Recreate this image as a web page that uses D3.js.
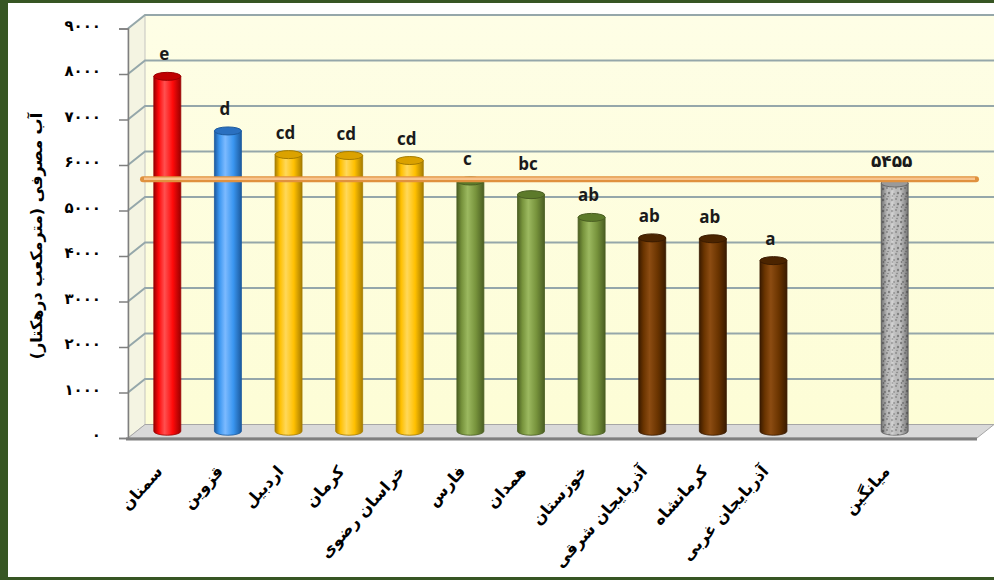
<!DOCTYPE html>
<html lang="fa">
<head>
<meta charset="UTF-8" />
<title>آب مصرفی</title>
<script src="https://d3js.org/d3.v7.min.js"></script>
<style>
  body { margin: 0; background: #375623; }
  svg { display: block; }
</style>
</head>
<body>
<div id="chart"></div>
<script>
const provinces = ["سمنان", "قزوین", "اردبیل", "کرمان", "خراسان رضوی", "فارس", "همدان", "خوزستان", "آذربایجان شرقی", "کرمانشاه", "آذربایجان غربی"]
const waterUse = [7800, 6600, 6080, 6060, 5950, 5500, 5200, 4700, 4250, 4230, 3750]
const groups = ["e", "d", "cd", "cd", "cd", "c", "bc", "ab", "ab", "ab", "a"]
const meanName = "میانگین"
const meanValue = 5455
const yTicks = [0, 1000, 2000, 3000, 4000, 5000, 6000, 7000, 8000, 9000]
const yTitle = "آب مصرفی (مترمکعب درهکتار)"

// colour of each province bar
const barColors = ["red", "blue", "yellow", "yellow", "yellow", "green", "green", "green", "brown", "brown", "brown"]

const palette = {
    red: { base: "#ff0a0a", dark: "#9a0000", light: "#ff5050", top: "#c00000" },
    blue: { base: "#3a96f0", dark: "#1c5a9e", light: "#7cbaff", top: "#2a70c0" },
    yellow: { base: "#ffc000", dark: "#a67c00", light: "#ffd85a", top: "#dba200" },
    green: { base: "#77933c", dark: "#4a5e22", light: "#9cb960", top: "#5c7a2a" },
    brown: { base: "#6a3400", dark: "#3a1b00", light: "#8c4c12", top: "#4b2400" },
    gray: { base: "#c4c4c4", dark: "#6a6a6a", light: "#ececec", top: "#9a9a9a" }
}

const toFa = n => String(n).replace(/\d/g, d => "۰۱۲۳۴۵۶۷۸۹"[d])

const width = 994
const height = 580
const depth = { dx: 17, dy: -13.5 }
const wall = { left: 145, right: 994 }

const y = d3.scaleLinear().domain([0, 9000]).range([424.5, 15])   // back wall
const yFront = v => y(v) - depth.dy
const yMid = v => y(v) - depth.dy / 2

const slots = [...provinces, "", meanName]
const x = d3.scaleBand().domain(slots).range([137, 925]).padding(0)
const barW = 27
const cx = k => x(k) + x.bandwidth() / 2

const svg = d3.select("#chart").append("svg")
    .attr("width", width)
    .attr("height", height)

const defs = svg.append("defs")
Object.entries(palette).forEach(([k, c]) => {
    const g = defs.append("linearGradient").attr("id", "cyl-" + k)
        .attr("x1", 0).attr("x2", 1).attr("y1", 0).attr("y2", 0)
    g.append("stop").attr("offset", "0%").attr("stop-color", c.dark)
    g.append("stop").attr("offset", "18%").attr("stop-color", c.base)
    g.append("stop").attr("offset", "40%").attr("stop-color", c.light)
    g.append("stop").attr("offset", "70%").attr("stop-color", c.base)
    g.append("stop").attr("offset", "100%").attr("stop-color", c.dark)
})
// shading laid over the stone pattern
const shade = defs.append("linearGradient").attr("id", "shade")
    .attr("x1", 0).attr("x2", 1).attr("y1", 0).attr("y2", 0)
shade.append("stop").attr("offset", "0%").attr("stop-color", "#333").attr("stop-opacity", 0.55)
shade.append("stop").attr("offset", "25%").attr("stop-color", "#333").attr("stop-opacity", 0)
shade.append("stop").attr("offset", "40%").attr("stop-color", "#fff").attr("stop-opacity", 0.35)
shade.append("stop").attr("offset", "70%").attr("stop-color", "#333").attr("stop-opacity", 0)
shade.append("stop").attr("offset", "100%").attr("stop-color", "#333").attr("stop-opacity", 0.55)

const wallGrad = defs.append("linearGradient").attr("id", "wall")
    .attr("x1", 0).attr("x2", 0).attr("y1", 0).attr("y2", 1)
wallGrad.append("stop").attr("offset", "0%").attr("stop-color", "#fefee6")
wallGrad.append("stop").attr("offset", "100%").attr("stop-color", "#fdfdd6")

// speckled stone look for the mean bar
const pat = defs.append("pattern").attr("id", "stone")
    .attr("patternUnits", "userSpaceOnUse").attr("width", 9).attr("height", 11)
pat.append("rect").attr("width", 9).attr("height", 11).attr("fill", "#c2c2c2")
const specks = [[1, 2, 1.3], [5, 1, 0.9], [7, 6, 1.2], [3, 7, 1], [6, 9.5, 0.8], [1.5, 9, 0.9]]
pat.selectAll("circle").data(specks).join("circle")
    .attr("cx", d => d[0]).attr("cy", d => d[1]).attr("r", d => d[2])
    .attr("fill", "#5f5f5f").attr("opacity", 0.65)

// page
svg.append("rect").attr("width", width).attr("height", height).attr("fill", "#375623")
svg.append("rect").attr("x", 8).attr("y", 3).attr("width", width - 8).attr("height", 574).attr("fill", "#ffffff")

// back wall
svg.append("rect")
    .attr("x", wall.left).attr("y", y(9000))
    .attr("width", wall.right - wall.left).attr("height", y(0) - y(9000))
    .attr("fill", "url(#wall)")

// side wall
svg.append("path")
    .attr("d", `M${wall.left - depth.dx},${yFront(9000)}L${wall.left},${y(9000)}L${wall.left},${y(0)}L${wall.left - depth.dx},${yFront(0)}Z`)
    .attr("fill", "#f4f4e2")
    .attr("stroke", "#b8b8b8")
    .attr("stroke-width", 0.8)

// floor
svg.append("path")
    .attr("d", `M${wall.left - depth.dx},${yFront(0)}L977,${yFront(0)}L${wall.right},${y(0)}L${wall.left},${y(0)}Z`)
    .attr("fill", "#d9d9d9")
    .attr("stroke", "#a6a6a6")
    .attr("stroke-width", 1)
svg.append("line")
    .attr("x1", wall.left - depth.dx - 2).attr("x2", 977)
    .attr("y1", yFront(0) + 1).attr("y2", yFront(0) + 1)
    .attr("stroke", "#7f7f7f").attr("stroke-width", 3)

// gridlines, folded from the side wall onto the back wall
svg.append("g")
    .selectAll("path")
    .data(yTicks.filter(t => t > 0))
    .join("path")
    .attr("d", t => `M${wall.left - depth.dx},${yFront(t)}L${wall.left},${y(t)}L${wall.right},${y(t)}`)
    .attr("fill", "none")
    .attr("stroke", "#95a7aa")
    .attr("stroke-width", 2)

// front value axis
const yAxisScale = d3.scaleLinear().domain(y.domain()).range([yFront(0), yFront(9000)])
svg.append("g")
    .attr("transform", `translate(${wall.left - depth.dx},0)`)
    .call(d3.axisLeft(yAxisScale).tickValues(yTicks).tickSize(9).tickPadding(18).tickFormat(toFa))
    .call(g => g.select(".domain").attr("stroke", "#7f7f7f").attr("stroke-width", 1.5))
    .call(g => g.selectAll(".tick line").attr("stroke", "#7f7f7f").attr("stroke-width", 1.5))
    .call(g => g.selectAll(".tick text")
        .attr("dy", "0.1em")
        .attr("font-family", "DejaVu Sans, sans-serif")
        .attr("font-weight", "bold")
        .attr("font-size", 15)
        .attr("fill", "#000"))

svg.append("text")
    .attr("transform", "translate(42,236) rotate(-90)")
    .attr("text-anchor", "middle")
    .attr("font-family", "DejaVu Sans, sans-serif")
    .attr("font-weight", "bold")
    .attr("font-size", 16)
    .attr("fill", "#000")
    .text(yTitle)

// cylinders
const bars = provinces.map((p, i) => ({ key: p, value: waterUse[i], color: barColors[i], label: groups[i] }))
bars.push({ key: meanName, value: meanValue, color: "gray", label: toFa(meanValue) })

const meanY = y(meanValue) + 3
// letters sit above the bar top, but are lifted above the mean line when they would touch it
const labelY = v => {
    const b = yMid(v) - 16
    return (b > meanY - 9 && b < meanY + 16) ? meanY - 9 : b
}

const ry = 4
const bodyPath = d => {
    const x0 = cx(d.key) - barW / 2, x1 = cx(d.key) + barW / 2
    const top = yMid(d.value), base = yMid(0)
    return `M${x0},${top}L${x0},${base}A${barW / 2},${ry} 0 0 0 ${x1},${base}L${x1},${top}Z`
}
const cyl = svg.append("g").selectAll("g").data(bars).join("g")
cyl.append("path")
    .attr("d", bodyPath)
    .attr("fill", d => d.color === "gray" ? "url(#stone)" : `url(#cyl-${d.color})`)
    .attr("stroke", d => palette[d.color].dark)
    .attr("stroke-width", 0.8)
cyl.filter(d => d.color === "gray").append("path")
    .attr("d", bodyPath)
    .attr("fill", "url(#shade)")
cyl.append("ellipse")
    .attr("cx", d => cx(d.key))
    .attr("cy", d => yMid(d.value))
    .attr("rx", barW / 2)
    .attr("ry", ry)
    .attr("fill", d => palette[d.color].top)
    .attr("stroke", d => palette[d.color].dark)
    .attr("stroke-width", 1)

// mean line
svg.append("line")
    .attr("x1", 143).attr("x2", 976)
    .attr("y1", meanY).attr("y2", meanY)
    .attr("stroke", "#e0913e").attr("stroke-width", 6).attr("stroke-linecap", "round")
svg.append("line")
    .attr("x1", 144).attr("x2", 975)
    .attr("y1", meanY - 0.5).attr("y2", meanY - 0.5)
    .attr("stroke", "#f8c48e").attr("stroke-width", 2.5)

// letters above bars
svg.append("g").selectAll("text").data(bars).join("text")
    .attr("x", d => cx(d.key) - 3)
    .attr("y", d => labelY(d.value))
    .attr("text-anchor", "middle")
    .attr("font-family", d => d.color === "gray" ? "DejaVu Sans, sans-serif" : "Open Sans, sans-serif")
    .attr("font-weight", "bold")
    .attr("font-size", 17)
    .attr("fill", "#1a1a1a")
    .text(d => d.label)

// category labels
svg.append("g").selectAll("text").data(slots.filter(s => s))
    .join("text")
    .attr("transform", d => `translate(${cx(d) - 4},472) rotate(-48)`)
    .attr("text-anchor", "end")
    .attr("font-family", "DejaVu Sans, sans-serif")
    .attr("font-weight", "bold")
    .attr("font-size", 16)
    .attr("fill", "#000")
    .text(d => d)
</script>
</body>
</html>
